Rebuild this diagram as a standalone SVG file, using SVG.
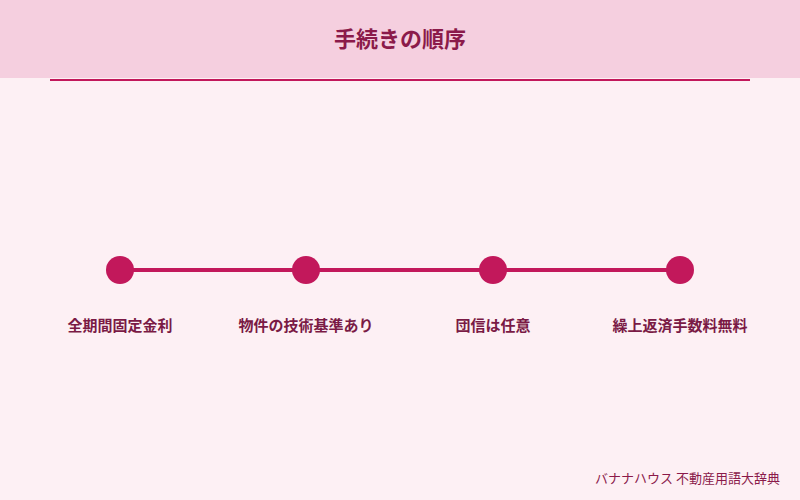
<svg xmlns="http://www.w3.org/2000/svg" width="800" height="500" viewBox="0 0 800 500">
<style>
.lbl{font-family:"Noto Sans CJK JP",sans-serif;font-size:15px;font-weight:bold;fill:#7a1a45;text-anchor:middle}
.dot{fill:#c2185b}
</style>
<rect width="800" height="500" fill="#fdf0f4"/>
<rect width="800" height="78" fill="#f5cfdf"/>
<line x1="50" y1="80" x2="750" y2="80" stroke="#c2185b" stroke-width="2"/>
<text x="400" y="47" font-family="'Noto Sans CJK JP',sans-serif" font-size="22" font-weight="bold" fill="#8b1a4a" text-anchor="middle">手続きの順序</text>
<g id="connectors">
<line x1="120" y1="270" x2="680" y2="270" stroke="#c2185b" stroke-width="4"/>
</g>
<g id="n1"><circle class="dot" cx="120" cy="270" r="14"/><text class="lbl" x="120" y="331">全期間固定金利</text></g>
<g id="n2"><circle class="dot" cx="306" cy="270" r="14"/><text class="lbl" x="306" y="331">物件の技術基準あり</text></g>
<g id="n3"><circle class="dot" cx="493" cy="270" r="14"/><text class="lbl" x="493" y="331">団信は任意</text></g>
<g id="n4"><circle class="dot" cx="680" cy="270" r="14"/><text class="lbl" x="680" y="331">繰上返済手数料無料</text></g>
<text x="780" y="483" font-family="'Noto Sans CJK JP',sans-serif" font-size="13" fill="#8b1a4a" text-anchor="end">バナナハウス 不動産用語大辞典</text>
</svg>
